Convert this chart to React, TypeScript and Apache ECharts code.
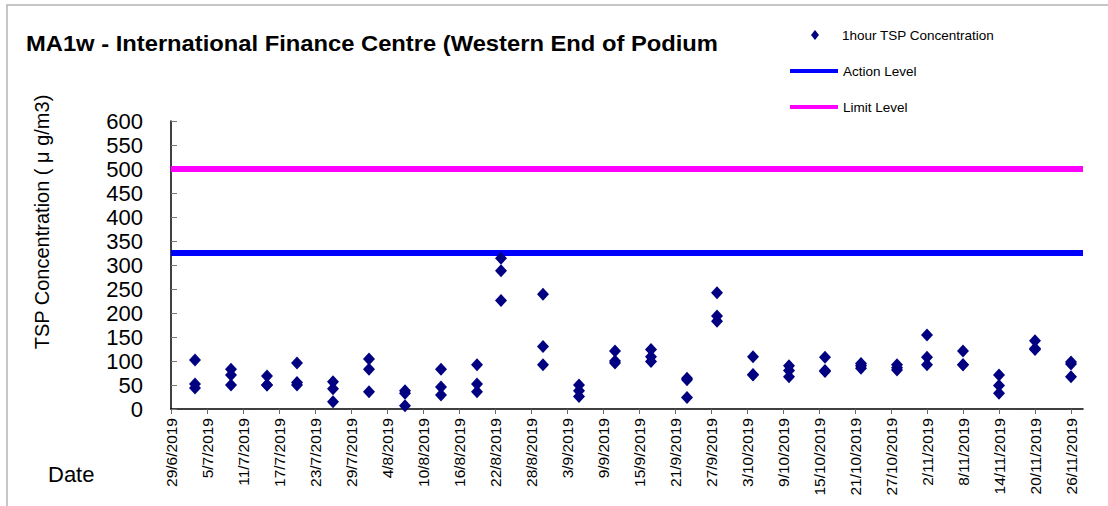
import React, { useEffect, useRef } from "react";
import * as echarts from "echarts";

const START_DATE = "2019-06-29";
const END_DATE = "2019-11-28";

const sampleDates = [
  "2019-07-03", "2019-07-09", "2019-07-15", "2019-07-20", "2019-07-26",
  "2019-08-01", "2019-08-07", "2019-08-13", "2019-08-19", "2019-08-23",
  "2019-08-30", "2019-09-05", "2019-09-11", "2019-09-17", "2019-09-23",
  "2019-09-28", "2019-10-04", "2019-10-10", "2019-10-16", "2019-10-22",
  "2019-10-28", "2019-11-02", "2019-11-08", "2019-11-14", "2019-11-20",
  "2019-11-26",
];

const reading1 = [102, 83, 69, 96, 57, 104, 38, 83, 92, 314, 239, 50, 121, 124, 64, 242, 109, 90, 108, 95, 92, 154, 121, 71, 142, 98];
const reading2 = [52, 71, 50, 55, 42, 83, 33, 46, 52, 288, 130, 38, 100, 109, 61, 194, 72, 80, 80, 90, 86, 108, 92, 49, 126, 94];
const reading3 = [44, 50, 50, 50, 15, 36, 7, 29, 36, 226, 92, 26, 96, 99, 24, 183, 71, 67, 78, 85, 81, 92, 92, 33, 124, 67];

const ACTION_LEVEL = 325;
const LIMIT_LEVEL = 500;

const xTickLabels = [
  "29/6/2019", "5/7/2019", "11/7/2019", "17/7/2019", "23/7/2019", "29/7/2019",
  "4/8/2019", "10/8/2019", "16/8/2019", "22/8/2019", "28/8/2019", "3/9/2019",
  "9/9/2019", "15/9/2019", "21/9/2019", "27/9/2019", "3/10/2019", "9/10/2019",
  "15/10/2019", "21/10/2019", "27/10/2019", "2/11/2019", "8/11/2019",
  "14/11/2019", "20/11/2019", "26/11/2019",
];

const yTicks = [0, 50, 100, 150, 200, 250, 300, 350, 400, 450, 500, 550, 600];

const DAY = 86400000;
const isoToUtc = (s: string) => {
  const [y, m, d] = s.split("-").map(Number);
  return Date.UTC(y, m - 1, d);
};
const dmyToUtc = (s: string) => {
  const [d, m, y] = s.split("/").map(Number);
  return Date.UTC(y, m - 1, d);
};
const origin = isoToUtc(START_DATE);
const dayOf = (t: number) => Math.round((t - origin) / DAY);

const FONT = "'Liberation Sans', Arial, Helvetica, sans-serif";

export default function App() {
  const ref = useRef<HTMLDivElement>(null);

  useEffect(() => {
    if (!ref.current) return;
    const chart = echarts.init(ref.current, null, { renderer: "svg" });

    const xMax = dayOf(isoToUtc(END_DATE));
    const tickDays = xTickLabels.map((l) => dayOf(dmyToUtc(l)));
    const labelByDay: Record<number, string> = {};
    tickDays.forEach((d, i) => (labelByDay[d] = xTickLabels[i]));

    const points: number[][] = [];
    sampleDates.forEach((ds, i) => {
      const d = dayOf(isoToUtc(ds));
      [reading1[i], reading2[i], reading3[i]].forEach((v) => points.push([d, v]));
    });

    const option: any = {
      animation: false,
      backgroundColor: "#ffffff",
      textStyle: { fontFamily: FONT, color: "#000" },
      legend: [
        {
          data: [{ name: "1hour TSP Concentration", icon: "diamond" }],
          left: 811,
          top: 28,
          padding: 0,
          itemWidth: 8,
          itemHeight: 10,
          textStyle: { fontFamily: FONT, fontSize: 13.5, color: "#000", padding: [0, 0, 0, 18] },
        },
        {
          data: [{ name: "Action Level", icon: "rect" }],
          left: 790,
          top: 64,
          padding: 0,
          itemWidth: 48,
          itemHeight: 4,
          textStyle: { fontFamily: FONT, fontSize: 13.5, color: "#000" },
        },
        {
          data: [{ name: "Limit Level", icon: "rect" }],
          left: 790,
          top: 100,
          padding: 0,
          itemWidth: 48,
          itemHeight: 4,
          textStyle: { fontFamily: FONT, fontSize: 13.5, color: "#000" },
        },
      ],
      grid: { left: 171, right: 25, top: 121, bottom: 97, containLabel: false },
      xAxis: {
        type: "value",
        min: 0,
        max: xMax,
        interval: 6,
        splitLine: { show: false },
        axisLine: { show: true, onZero: false, lineStyle: { color: "#000", width: 1.5 } },
        axisTick: {
          show: true,
          length: 5,
          customValues: tickDays,
          lineStyle: { color: "#666", width: 1 },
        },
        axisLabel: {
          customValues: tickDays,
          rotate: 90,
          margin: 9,
          fontSize: 15.5,
          fontFamily: FONT,
          color: "#000",
          formatter: (v: number) => labelByDay[Math.round(v)] ?? "",
        },
      },
      yAxis: {
        type: "value",
        min: yTicks[0],
        max: yTicks[yTicks.length - 1],
        interval: yTicks[1] - yTicks[0],
        splitLine: { show: false },
        axisLine: { show: true, lineStyle: { color: "#000", width: 1.5 } },
        axisTick: { show: true, inside: true, length: 6, lineStyle: { color: "#777", width: 1 } },
        axisLabel: { fontSize: 22, fontFamily: FONT, color: "#000", margin: 28 },
      },
      graphic: [
        {
          type: "rect",
          shape: { x: 7, y: 5, width: 1120, height: 520 },
          style: { fill: "none", stroke: "#b4b4b4", lineWidth: 1.5 },
          silent: true,
          z: -10,
        },
        {
          type: "text",
          x: 26,
          y: 43,
          scaleX: 1.08,
          style: {
            text: "MA1w - International Finance Centre (Western End of Podium",
            fontFamily: FONT,
            fontSize: 22,
            fontWeight: "bold",
            fill: "#000",
            align: "left",
            verticalAlign: "middle",
          },
        },
        {
          type: "text",
          x: 42,
          y: 222,
          rotation: Math.PI / 2,
          style: {
            text: "TSP Concentration ( μ g/m3)",
            fontFamily: FONT,
            fontSize: 20,
            fill: "#000",
            align: "center",
            verticalAlign: "middle",
          },
        },
        {
          type: "text",
          x: 48,
          y: 474,
          style: {
            text: "Date",
            fontFamily: FONT,
            fontSize: 22,
            fill: "#000",
            align: "left",
            verticalAlign: "middle",
          },
        },
      ],
      series: [
        {
          name: "Action Level",
          type: "line",
          data: [[0, ACTION_LEVEL], [xMax, ACTION_LEVEL]],
          symbol: "none",
          color: "#0000ff",
          lineStyle: { color: "#0000ff", width: 6 },
          z: 2,
        },
        {
          name: "Limit Level",
          type: "line",
          data: [[0, LIMIT_LEVEL], [xMax, LIMIT_LEVEL]],
          symbol: "none",
          color: "#ff00ff",
          lineStyle: { color: "#ff00ff", width: 6 },
          z: 2,
        },
        {
          name: "1hour TSP Concentration",
          type: "scatter",
          data: points,
          symbol: "diamond",
          symbolSize: [12, 13],
          color: "#000080",
          itemStyle: { color: "#000080", opacity: 1 },
          z: 3,
        },
      ],
    };

    chart.setOption(option);
    return () => chart.dispose();
  }, []);

  return (
    <div
      ref={ref}
      style={{ position: "fixed", left: 0, top: 0, width: 1108, height: 506, background: "#fff" }}
    />
  );
}
